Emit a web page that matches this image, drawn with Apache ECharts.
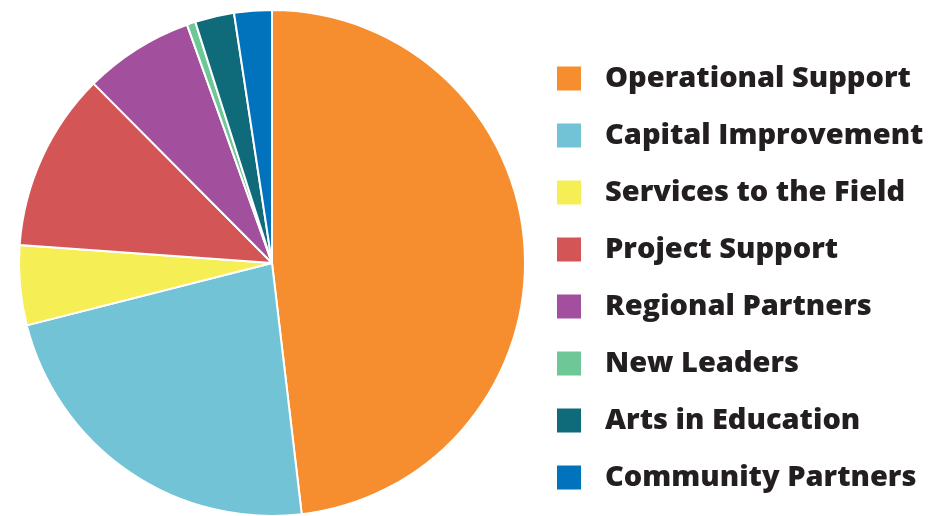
<!DOCTYPE html>
<html><head><meta charset="utf-8">
<script src="https://cdn.jsdelivr.net/npm/echarts@6/dist/echarts.min.js"></script>
<style>html,body{margin:0;padding:0;background:#fff}#c{width:929px;height:516px}</style>
</head><body><div id="c"></div>
<script>
const categories = ["Operational Support","Capital Improvement","Services to the Field","Project Support","Regional Partners","New Leaders","Arts in Education","Community Partners"];
const values = [48.1, 22.9, 5.1, 11.4, 7.0, 0.55, 2.5, 2.4];
const colors = ["#F68D2E","#71C3D5","#F6EE55","#D45556","#A24F9E","#6EC796","#0F6A7A","#0172BC"];

const chart = echarts.init(document.getElementById('c'), null, {renderer:'canvas'});
chart.setOption({
  animation:false,
  color: colors,
  legend:{
    orient:'vertical', left:555, top:64, padding:0,
    itemWidth:26, itemHeight:26, itemGap:28,
    icon:'rect',
    textStyle:{fontFamily:'Open Sans', fontWeight:800, fontSize:29, lineHeight:26, color:'#231F20', padding:[0,0,0,18]},
    data: categories
  },
  series:[{
    type:'pie', center:[272,263], radius:[0,253],
    startAngle:90, clockwise:true,
    label:{show:false}, labelLine:{show:false},
    itemStyle:{borderColor:'#fff', borderWidth:2},
    data: categories.map((n,i)=>({name:n, value:values[i]}))
  }]
});
</script></body></html>
